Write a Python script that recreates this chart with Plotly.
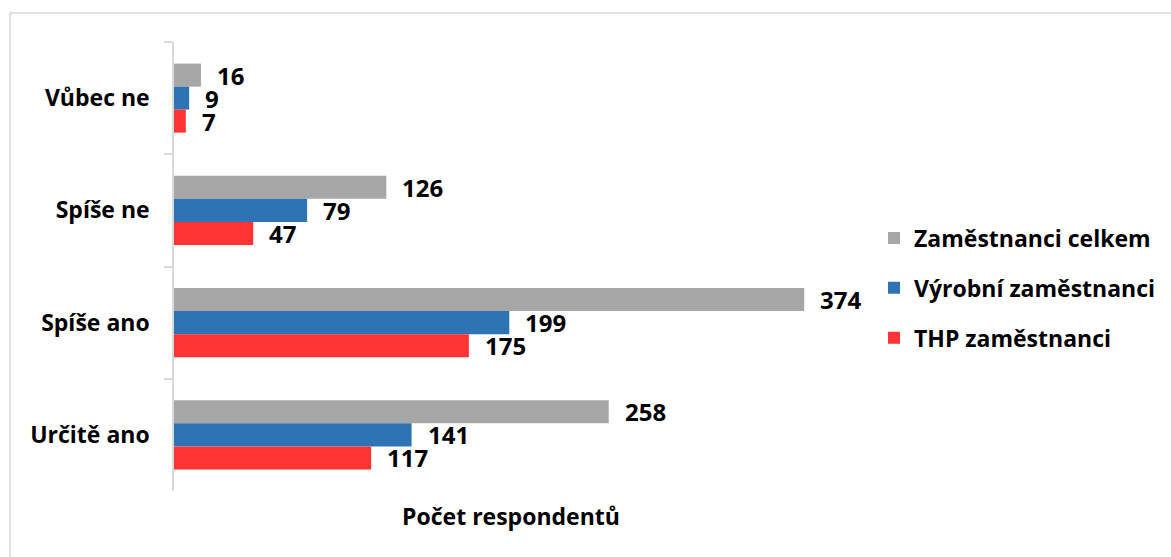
import plotly.graph_objects as go

# Survey answers (top to bottom) and respondent counts per group
categories = ["Vůbec ne", "Spíše ne", "Spíše ano", "Určitě ano"]
series_names = ["Zaměstnanci celkem", "Výrobní zaměstnanci", "THP zaměstnanci"]
celkem = [16, 126, 374, 258]
vyrobni = [9, 79, 199, 141]
thp = [7, 47, 175, 117]
series_values = [celkem, vyrobni, thp]
colors = ["#A6A6A6", "#2E74B5", "#FF3535"]

FONT = "Open Sans"
LABEL_SIZE = 23
W, H = 1171, 557
margin = dict(l=174, r=323, t=42, b=66)
bargap = 0.385

fig = go.Figure()
for name, vals, col in zip(series_names, series_values, colors):
    fig.add_trace(go.Bar(
        y=categories, x=vals, name=name, orientation="h",
        marker=dict(color=col, line=dict(width=0)),
        legendgroup=name,
    ))

# value labels placed just past the end of each bar
plot_h = H - margin["t"] - margin["b"]
bar_px = plot_h / len(categories) * (1 - bargap) / len(series_names)
for i, vals in enumerate(series_values):
    shift = (1 - i) * bar_px
    for cat, v in zip(categories, vals):
        fig.add_annotation(
            x=v, y=cat, text=str(v), showarrow=False,
            xanchor="left", yanchor="middle", xshift=14, yshift=shift,
            font=dict(family=FONT, size=24, color="#000000", weight="bold"),
        )

# light frame around the chart area
plot_w = W - margin["l"] - margin["r"]
fig.add_shape(
    type="rect", xref="paper", yref="paper",
    x0=(10 - margin["l"]) / plot_w, x1=(W + 20 - margin["l"]) / plot_w,
    y0=(H - margin["b"] - (H + 20)) / plot_h, y1=(H - margin["b"] - 13) / plot_h,
    line=dict(color="#D9D9D9", width=1.5), fillcolor="rgba(0,0,0,0)", layer="below",
)

label_font = dict(family=FONT, size=LABEL_SIZE, color="#000000", weight="bold")

fig.update_layout(
    width=W, height=H, margin=margin,
    paper_bgcolor="white", plot_bgcolor="white",
    barmode="group", bargap=bargap, bargroupgap=0,
    font=label_font,
    showlegend=True,
    legend=dict(
        xref="container", yref="container",
        x=874 / W, xanchor="left",
        y=1 - 288 / H, yanchor="middle",
        traceorder="grouped", tracegroupgap=17,
        font=label_font,
        bgcolor="rgba(0,0,0,0)",
    ),
    xaxis=dict(
        range=[0, 400], showticklabels=False, showgrid=False, zeroline=False,
        showline=False, ticks="", automargin=False,
        title=dict(text="Počet respondentů", standoff=17, font=label_font),
    ),
    yaxis=dict(
        autorange="reversed", showgrid=False, zeroline=False, automargin=False,
        showline=True, linecolor="#D9D9D9", linewidth=1.5,
        ticks="outside", tickson="boundaries", ticklen=8, tickcolor="#D9D9D9",
        tickwidth=1.5, ticklabelstandoff=18,
        tickfont=label_font,
    ),
)

fig.write_html("out.html")
